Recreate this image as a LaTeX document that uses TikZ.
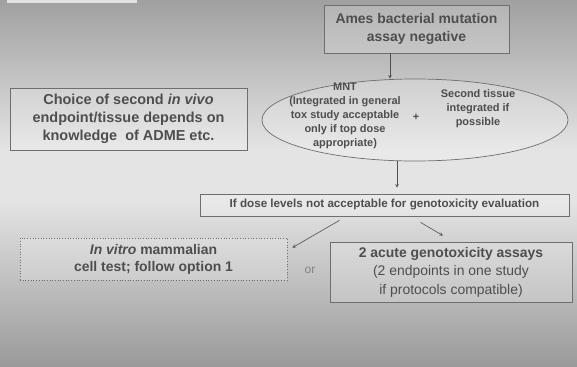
\documentclass[tikz,border=0pt]{standalone}
\usepackage{fontspec}
\setmainfont{Liberation Sans}
\usetikzlibrary{arrows, shapes, shapes.geometric}

\definecolor{bgtop}{HTML}{A0A0A0}
\definecolor{bgmid}{HTML}{E4E4E4}
\definecolor{bgbot}{HTML}{9A9A9A}
\definecolor{ink}{HTML}{4E4E4E}
\definecolor{edge}{HTML}{6E6E6E}

\begin{document}
\begin{tikzpicture}[x=1bp, y=-1bp, font=\bfseries, text=ink,
	box/.style={draw=edge, line width=0.7bp, fill=white, fill opacity=0.2, text opacity=1, inner sep=0pt, align=center},
	etxt/.style={align=center, font=\bfseries\fontsize{11}{14}\selectfont},
	arr/.style={-stealth, draw=ink, line width=0.6bp}]
	\def\W{577}
	\def\H{366}

	\useasboundingbox (0,0) rectangle (\W,\H);
	\begin{scope}[y=1bp]
		\shade[top color=bgtop, bottom color=bgmid]	(0,0) rectangle (\W,-150);
		\fill[bgmid]	(0,-150) rectangle (\W,-200);
		\shade[top color=bgmid, bottom color=bgbot]	(0,-200) rectangle (\W,-\H);
	\end{scope}
	\fill[white, opacity=0.7]		(7,0) rectangle (137,2.5);

	\node[box, minimum width=185bp, minimum height=48bp, font=\bfseries\fontsize{14}{18}\selectfont]	(ames) at (416.5,29) {Ames bacterial mutation\\assay negative};
	\node[box, minimum width=237bp, minimum height=62bp, font=\bfseries\fontsize{14.5}{18}\selectfont]	(adme) at (128.5,119) {Choice of second \textit{in vivo}\\endpoint/tissue depends on\\knowledge~ of ADME etc.};
	\node[ellipse, draw=edge, line width=0.7bp, fill=white, fill opacity=0.2, minimum width=306bp, minimum height=82bp, inner sep=0pt]	(mnt) at (415,120) {};
	\node[etxt]		(mnttxt) at (345,116) {MNT\\(Integrated in general\\tox study acceptable\\only if top dose\\appropriate)};
	\node[etxt]		(plus) at (416,117) {+};
	\node[etxt]		(tissue) at (478,109) {Second tissue\\integrated if\\possible};
	\node[box, minimum width=369bp, minimum height=22bp, font=\bfseries\fontsize{11.7}{14}\selectfont]	(dose) at (384.5,205) {If dose levels not acceptable for genotoxicity evaluation};
	\node[box, dotted, minimum width=267bp, minimum height=42bp, font=\bfseries\fontsize{14}{17}\selectfont]	(vitro) at (153.5,259) {\textit{In vitro} mammalian\\cell test; follow option 1};
	\node[box, minimum width=242bp, minimum height=60bp, font=\fontsize{14}{18.5}\selectfont]	(acute) at (451,272) {\textbf{2 acute genotoxicity assays}\\(2 endpoints in one study\\if protocols compatible)};
	\node[font=\fontsize{12}{14}\selectfont, text=ink!70]	(or) at (310,270) {or};

	\draw[arr]		([xshift=-26.5bp]ames.south) -- ([xshift=-26.5bp]ames.south |- mnt.north);
	\draw[arr, shorten >=6bp]	(mnt.south -| 397,0) -- (dose.north -| 397,0);
	\draw[arr]		([xshift=-45bp, yshift=-4bp]dose.south) -- ([xshift=5bp, yshift=-10bp]vitro.north east);
	\draw[arr]		([xshift=36bp, yshift=-6bp]dose.south) -- ([xshift=-8bp, yshift=6bp]acute.north);
\end{tikzpicture}
\end{document}
